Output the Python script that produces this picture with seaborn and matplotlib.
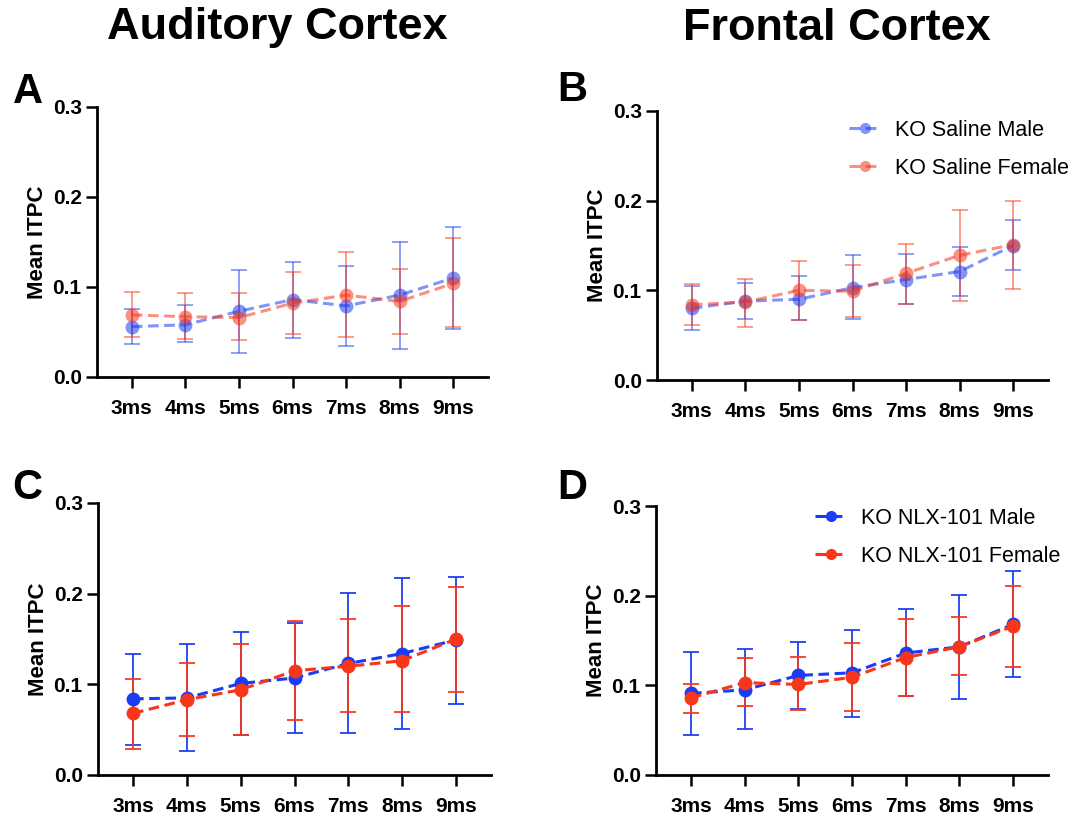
import numpy as np
import pandas as pd
import matplotlib
matplotlib.use("Agg")
import matplotlib.pyplot as plt
import seaborn as sns

sns.set_theme(style="ticks")
plt.rcParams['font.family'] = ['Liberation Sans', 'DejaVu Sans']
plt.rcParams['text.color'] = 'black'
plt.rcParams['axes.labelcolor'] = 'black'
plt.rcParams['xtick.color'] = 'black'
plt.rcParams['ytick.color'] = 'black'

# ---------------- data ----------------
categories = ["3ms", "4ms", "5ms", "6ms", "7ms", "8ms", "9ms"]

# Panel A: Auditory cortex, saline
A_male = [0.056, 0.058, 0.073, 0.086, 0.079, 0.091, 0.110]
A_male_lo = [0.037, 0.039, 0.027, 0.043, 0.034, 0.031, 0.053]
A_male_hi = [0.076, 0.080, 0.119, 0.128, 0.123, 0.150, 0.167]
A_fem = [0.069, 0.067, 0.066, 0.082, 0.091, 0.084, 0.104]
A_fem_lo = [0.044, 0.042, 0.041, 0.048, 0.044, 0.048, 0.056]
A_fem_hi = [0.094, 0.093, 0.093, 0.117, 0.139, 0.120, 0.154]

# Panel B: Frontal cortex, saline
B_male = [0.080, 0.088, 0.090, 0.103, 0.112, 0.121, 0.150]
B_male_lo = [0.056, 0.068, 0.067, 0.068, 0.085, 0.094, 0.123]
B_male_hi = [0.105, 0.108, 0.116, 0.139, 0.141, 0.148, 0.178]
B_fem = [0.084, 0.087, 0.100, 0.099, 0.119, 0.139, 0.151]
B_fem_lo = [0.061, 0.059, 0.067, 0.070, 0.085, 0.088, 0.101]
B_fem_hi = [0.107, 0.113, 0.133, 0.128, 0.152, 0.190, 0.200]

# Panel C: Auditory cortex, NLX-101
C_male = [0.084, 0.085, 0.101, 0.107, 0.123, 0.134, 0.149]
C_male_lo = [0.033, 0.026, 0.044, 0.046, 0.046, 0.051, 0.078]
C_male_hi = [0.134, 0.144, 0.158, 0.168, 0.201, 0.217, 0.218]
C_fem = [0.068, 0.083, 0.094, 0.115, 0.120, 0.126, 0.150]
C_fem_lo = [0.029, 0.043, 0.044, 0.061, 0.069, 0.069, 0.092]
C_fem_hi = [0.106, 0.123, 0.145, 0.170, 0.172, 0.186, 0.207]

# Panel D: Frontal cortex, NLX-101
D_male = [0.091, 0.095, 0.111, 0.114, 0.136, 0.143, 0.168]
D_male_lo = [0.045, 0.051, 0.074, 0.065, 0.088, 0.085, 0.109]
D_male_hi = [0.137, 0.140, 0.148, 0.162, 0.185, 0.201, 0.227]
D_fem = [0.086, 0.103, 0.101, 0.109, 0.131, 0.143, 0.166]
D_fem_lo = [0.069, 0.077, 0.072, 0.071, 0.088, 0.111, 0.121]
D_fem_hi = [0.102, 0.130, 0.132, 0.147, 0.174, 0.176, 0.211]

saline_labels = ["KO Saline Male", "KO Saline Female"]
nlx_labels = ["KO NLX-101 Male", "KO NLX-101 Female"]
col_titles = ["Auditory Cortex", "Frontal Cortex"]
panel_letters = ["A", "B", "C", "D"]

BLUE = "#1a3cf2"
RED = "#f7361a"

# ---------------- figure ----------------
W, H = 1076.0, 816.0
fig = plt.figure(figsize=(W / 100, H / 100), dpi=100)

def pos(l, r, t, b):
    return [l / W, 1 - b / H, (r - l) / W, (b - t) / H]

axes_pos = [pos(97, 488, 107, 377), pos(657, 1048, 111, 380),
            pos(98, 491, 503, 775), pos(656, 1048, 506, 775)]
legend_anchor = [None, (849, 120), None, (815, 508)]

panels = [
    (A_male, A_male_lo, A_male_hi, A_fem, A_fem_lo, A_fem_hi, saline_labels, 0.55, False),
    (B_male, B_male_lo, B_male_hi, B_fem, B_fem_lo, B_fem_hi, saline_labels, 0.55, True),
    (C_male, C_male_lo, C_male_hi, C_fem, C_fem_lo, C_fem_hi, nlx_labels, 1.0, False),
    (D_male, D_male_lo, D_male_hi, D_fem, D_fem_lo, D_fem_hi, nlx_labels, 1.0, True),
]

DASH = (0, (3.5, 1.8))

for i, (m, mlo, mhi, f, flo, fhi, labels, alpha, show_leg) in enumerate(panels):
    ax = fig.add_axes(axes_pos[i])
    xs = np.arange(len(categories))
    df = pd.DataFrame({
        "cond": categories * 2,
        "val": list(m) + list(f),
        "group": [labels[0]] * len(categories) + [labels[1]] * len(categories),
    })
    for grp_vals, lo, hi, color in [(m, mlo, mhi, BLUE), (f, flo, fhi, RED)]:
        yerr = np.array([np.array(grp_vals) - np.array(lo), np.array(hi) - np.array(grp_vals)])
        ax.errorbar(xs, grp_vals, yerr=yerr, fmt="none", ecolor=color,
                    elinewidth=1.4, capsize=6, capthick=1.4, alpha=alpha * 0.9, zorder=2)
    sns.lineplot(data=df, x="cond", y="val", hue="group",
                 palette=[BLUE, RED], marker="o", markersize=10,
                 markeredgewidth=0, linewidth=2.2, dashes=False,
                 linestyle=DASH, alpha=alpha, ax=ax, zorder=3, legend=show_leg)

    ax.set_xlim(-0.65, 6.65)
    ax.set_ylim(0, 0.3)
    ax.set_yticks([0.0, 0.1, 0.2, 0.3])
    ax.set_yticklabels(["0.0", "0.1", "0.2", "0.3"])
    ax.set_xticks(xs)
    ax.set_xticklabels(categories)
    ax.set_xlabel("")
    ax.set_ylabel("Mean ITPC", fontsize=16, fontweight="bold", labelpad=3)
    for lab in ax.get_xticklabels() + ax.get_yticklabels():
        lab.set_fontweight("bold")
        lab.set_fontsize(15)
    ax.tick_params(axis="both", direction="out", length=8, width=1.8, color="black")
    ax.tick_params(axis="x", pad=8)
    ax.tick_params(axis="y", pad=3)
    sns.despine(ax=ax)
    for sp in ("left", "bottom"):
        ax.spines[sp].set_linewidth(2)
        ax.spines[sp].set_color("black")
    ax.set_facecolor("white")

    if show_leg:
        lx, ly = legend_anchor[i]
        leg = ax.legend(loc="upper left", bbox_to_anchor=(lx / W, 1 - ly / H),
                        bbox_transform=fig.transFigure, frameon=False,
                        fontsize=15.5, handlelength=1.45, handletextpad=0.7,
                        labelspacing=0.78, borderpad=0, borderaxespad=0)
        for h in leg.legend_handles:
            h.set_alpha(alpha)
            h.set_linestyle(DASH)
            h.set_linewidth(2.2)
            h.set_markersize(8)
    else:
        if ax.get_legend() is not None:
            ax.get_legend().remove()

    # panel letter
    px = [28, 572, 27, 572][i]
    py = [92, 90, 488, 488][i]
    fig.text(px / W, 1 - py / H, panel_letters[i], fontsize=30,
             fontweight="bold", ha="center", va="center")

fig.text(277 / W, 1 - 28 / H, col_titles[0], fontsize=32.5,
         fontweight="bold", ha="center", va="center")
fig.text(837 / W, 1 - 28 / H, col_titles[1], fontsize=32.5,
         fontweight="bold", ha="center", va="center")

fig.savefig("out.png", dpi=100, facecolor="white")
